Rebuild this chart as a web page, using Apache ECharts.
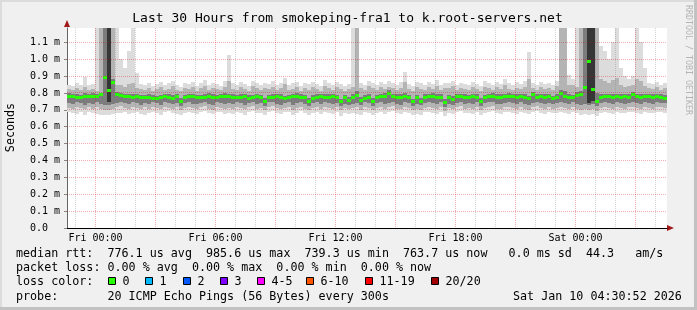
<!DOCTYPE html>
<html><head><meta charset="utf-8">
<script src="https://cdn.jsdelivr.net/npm/echarts@6/dist/echarts.min.js"></script>
<style>html,body{margin:0;padding:0;background:#f0f0f0}#c{width:697px;height:310px}</style>
</head><body><div id="c"></div>
<script>
// ---- time axis (hours relative to Fri 00:00) ----
const hourStart = -1.425;
const hourEnd = 28.575;
const slotHours = 0.2;
const xLabelHours = [0, 6, 12, 18, 24];
const xLabelText = ['Fri 00:00', 'Fri 06:00', 'Fri 12:00', 'Fri 18:00', 'Sat 00:00'];
// ---- value axis (microseconds) ----
const yMax = 1185;
const yTicks = [0, 100, 200, 300, 400, 500, 600, 700, 800, 900, 1000, 1100];

// median rtt per slot (us)
const med = [
782,778,776,775,780,778,781,779,790,893,
815,861,790,786,780,778,776,779,774,772,
776,770,768,773,777,775,770,778,748,772,
777,779,774,771,776,780,775,773,777,781,
778,776,772,775,779,770,774,777,773,752,
771,776,779,775,768,773,777,780,776,772,
747,770,775,778,774,776,779,772,747,771,
755,776,785,755,770,774,748,772,777,780,
798,778,774,776,779,773,747,771,752,775,
778,781,776,774,743,772,762,777,779,775,
773,778,776,750,772,777,780,776,774,778,
781,777,775,779,774,768,790,776,778,774,
777,766,775,798,780,776,773,785,790,831,
985,820,748,775,777,778,776,778,774,777,
776,790,778,775,777,779,776,778,775,770];
// outer smoke (lowest / highest ping)
const lo = [
690,682,676,686,672,688,680,676,670,668,
672,675,680,684,690,678,682,686,676,670,
684,690,679,672,686,692,680,675,668,684,
690,682,676,688,694,680,673,685,690,678,
684,676,690,682,672,686,692,679,684,670,
688,694,680,676,685,690,672,684,691,679,
668,682,688,676,690,684,678,686,666,680,
674,680,676,672,688,682,670,684,690,678,
686,692,680,674,688,682,668,678,672,686,
690,684,676,688,664,680,674,686,692,680,
684,678,690,670,682,688,694,680,676,686,
690,682,676,688,680,674,686,692,684,678,
686,680,684,690,682,676,688,680,672,676,
670,678,666,684,690,682,676,688,684,680,
686,690,682,676,688,684,680,690,686,682];
const hi = [
850,842,858,846,892,848,852,1200,1200,1200,
1200,1200,1200,1000,950,1050,1200,920,855,846,
862,840,851,868,845,857,872,849,838,860,
853,866,842,858,875,848,862,855,843,869,
1025,857,848,866,852,841,873,859,846,862,
854,870,845,861,888,849,857,866,843,858,
851,868,855,842,874,860,847,864,853,840,
856,1200,1200,861,849,872,858,845,866,852,
870,858,847,863,926,855,841,868,857,849,
864,852,876,845,861,858,873,847,862,855,
849,867,856,842,870,859,848,865,854,881,
857,846,863,852,869,1044,858,847,866,853,
861,849,872,1200,1200,905,880,1200,1200,1200,
1200,1200,1200,1080,1050,1000,1100,1200,950,900,
880,900,1200,1100,950,862,851,868,846,858];
// middle smoke
const mlo = [
712,706,718,710,704,716,708,714,705,700,
702,708,715,720,712,706,718,710,704,714,
708,716,711,703,719,713,707,715,700,712,
717,709,705,714,720,708,702,716,711,706,
713,705,718,710,703,715,720,707,712,698,
716,721,709,704,713,718,702,711,719,707,
699,710,716,705,718,712,706,714,697,709,
703,709,714,700,716,710,699,712,718,706,
714,720,708,703,716,710,697,707,701,713,
718,712,705,716,695,709,703,714,720,708,
712,706,718,699,710,716,721,708,704,714,
718,710,704,716,708,702,714,720,712,706,
714,707,712,718,710,704,716,708,700,705,
698,706,695,712,718,710,704,716,712,708,
714,718,710,704,716,712,708,718,714,710];
const mhi = [
822,815,828,818,834,820,825,812,1200,1200,
1200,1200,845,850,838,856,860,832,824,818,
830,812,822,836,815,826,840,820,810,828,
824,835,814,827,842,818,831,825,815,838,
870,826,818,834,822,812,840,828,816,831,
823,838,815,830,852,819,826,835,813,827,
820,836,824,813,842,829,817,833,822,811,
826,835,1200,830,819,840,827,815,834,822,
838,827,817,832,868,824,812,836,826,819,
833,822,844,815,830,827,840,817,831,824,
819,835,825,813,838,828,818,833,823,848,
826,816,832,822,837,880,827,817,834,823,
830,819,840,1200,1200,850,845,838,1200,1200,
1200,1200,1200,880,870,860,875,890,850,835,
840,845,880,870,840,830,821,836,816,827];
// inner (dense) smoke
const ilo = [
740,734,745,738,730,742,736,744,732,728,
731,737,743,748,740,733,746,739,731,742,
736,744,739,730,747,741,734,743,722,740,
745,737,732,742,748,736,730,744,739,733,
741,732,746,738,731,743,748,735,740,725,
744,749,737,731,741,746,729,739,747,735,
722,738,744,732,746,740,734,742,721,737,
730,737,742,727,744,738,722,740,746,734,
742,748,736,730,744,738,720,735,726,741,
746,740,733,744,718,737,729,742,748,736,
740,734,746,724,738,744,749,736,732,742,
746,738,732,744,736,729,742,748,740,734,
742,735,740,746,738,732,744,736,728,733,
726,734,722,740,746,738,732,744,740,736,
742,746,738,732,744,740,736,746,742,738];
const ihi = [
798,794,792,790,800,795,797,794,802,1200,
1200,880,808,802,796,794,792,796,790,788,
792,786,784,790,794,792,786,794,770,789,
794,796,790,787,793,797,792,789,794,798,
796,793,788,791,796,787,790,794,789,770,
788,793,796,792,785,790,794,797,793,789,
768,787,792,795,791,793,796,789,767,788,
774,795,810,775,787,791,768,789,794,797,
815,795,791,793,800,790,767,788,772,792,
795,798,793,791,763,789,780,794,796,792,
790,795,793,770,789,794,797,793,791,795,
798,794,792,796,791,785,808,793,795,791,
794,784,792,815,810,793,790,805,812,1200,
1200,1200,800,792,794,795,793,795,791,794,
793,807,795,792,794,796,793,795,792,790];
// darkest core smoke (only where it fills the column)
const coreSlot = [10, 130, 131];
const coreLo = [745, 740, 750];
const coreHi = [1200, 1200, 1200];

// legend
const lossLabels = ['0', '1', '2', '3', '4-5', '6-10', '11-19', '20/20'];
const lossColors = ['#26ff00', '#00b8ff', '#0059ff', '#7e00ff', '#ff00ff', '#ff5500', '#ff0000', '#a10000'];
const lossBoxX = [108, 145, 183, 220, 257, 306, 365, 431];
const titleText = 'Last 30 Hours from smokeping-fra1 to k.root-servers.net';
const rowRtt = 'median rtt:  776.1 us avg  985.6 us max  739.3 us min  763.7 us now   0.0 ms sd  44.3   am/s';
const rowLoss = 'packet loss: 0.00 % avg  0.00 % max  0.00 % min  0.00 % now';
const rowProbe = 'probe:       20 ICMP Echo Pings (56 Bytes) every 300s';
const stampText = 'Sat Jan 10 04:30:52 2026';

const MONO = '"DejaVu Sans Mono", monospace';

function slotRows(loArr, hiArr, idx) {
  return loArr.map((v, k) => {
    const i = idx ? idx[k] : k;
    return [hourStart + i * slotHours, v, hiArr[k], hourStart + (i + 1) * slotHours];
  });
}
function bandSeries(rows, color, z) {
  return {
    type: 'custom', z: z, silent: true, clip: true,
    encode: { x: [0, 3], y: [1, 2] }, data: rows,
    renderItem(params, api) {
      const a = api.coord([api.value(0), api.value(1)]);
      const b = api.coord([api.value(3), api.value(2)]);
      const cs = params.coordSys;
      const top = Math.round(Math.max(b[1], cs.y));
      const bot = Math.round(Math.min(a[1], cs.y + cs.height));
      const x0 = Math.round(a[0]), x1 = Math.round(b[0]);
      return { type: 'rect', shape: { x: x0, y: top, width: x1 - x0, height: bot - top }, style: { fill: color } };
    }
  };
}

const vGridHours = [];
for (let h = Math.ceil(hourStart); h <= Math.floor(hourEnd); h++) vGridHours.push(h);
const hGridVals = yTicks.filter(v => v > 0);
const RED = 'rgba(210,0,0,0.32)', GREY = 'rgba(128,128,128,0.35)';

const graphics = [
  { type: 'rect', shape: { x: 0, y: 0, width: 697, height: 2 }, style: { fill: '#dcdcdc' }, silent: true },
  { type: 'rect', shape: { x: 0, y: 0, width: 2, height: 310 }, style: { fill: '#dcdcdc' }, silent: true },
  { type: 'rect', shape: { x: 0, y: 307, width: 697, height: 3 }, style: { fill: '#c2c2c2' }, silent: true },
  { type: 'rect', shape: { x: 694, y: 0, width: 3, height: 310 }, style: { fill: '#c2c2c2' }, silent: true },
  { type: 'polygon', shape: { points: [[64, 27], [70, 27], [67, 20]] }, style: { fill: '#a01818' }, silent: true },
  { type: 'polygon', shape: { points: [[667, 225], [667, 231], [674, 228]] }, style: { fill: '#a01818' }, silent: true },
  { type: 'text', x: 347.5, y: 19, style: { text: titleText, font: '13px ' + MONO, fill: '#000', align: 'center', verticalAlign: 'middle' }, silent: true },
  { type: 'text', x: 10.5, y: 127.5, rotation: Math.PI / 2, style: { text: 'Seconds', font: '11.7px ' + MONO, fill: '#000', align: 'center', verticalAlign: 'middle' }, silent: true },
  { type: 'text', x: 688, y: 5, rotation: -Math.PI / 2, style: { text: 'RRDTOOL / TOBI OETIKER', font: '8.3px ' + MONO, fill: '#b4b4b4', align: 'left', verticalAlign: 'middle' }, silent: true },
  { type: 'text', x: 16, y: 254, style: { text: rowRtt, font: '11.7px ' + MONO, fill: '#000', align: 'left', verticalAlign: 'middle' }, silent: true },
  { type: 'text', x: 16, y: 268, style: { text: rowLoss, font: '11.7px ' + MONO, fill: '#000', align: 'left', verticalAlign: 'middle' }, silent: true },
  { type: 'text', x: 16, y: 282, style: { text: 'loss color:', font: '11.7px ' + MONO, fill: '#000', align: 'left', verticalAlign: 'middle' }, silent: true },
  { type: 'text', x: 16, y: 296.5, style: { text: rowProbe, font: '11.7px ' + MONO, fill: '#000', align: 'left', verticalAlign: 'middle' }, silent: true },
  { type: 'text', x: 513, y: 296.5, style: { text: stampText, font: '11.7px ' + MONO, fill: '#000', align: 'left', verticalAlign: 'middle' }, silent: true }
];
lossLabels.forEach((lab, k) => {
  graphics.push({ type: 'rect', shape: { x: lossBoxX[k] + 0.5, y: 277.5, width: 7, height: 7 }, style: { fill: lossColors[k], stroke: '#000', lineWidth: 1 }, silent: true });
  graphics.push({ type: 'text', x: lossBoxX[k] + 14.5, y: 282, style: { text: lab, font: '11.7px ' + MONO, fill: '#000', align: 'left', verticalAlign: 'middle' }, silent: true });
});

const chart = echarts.init(document.getElementById('c'), null, { renderer: 'canvas' });
chart.setOption({
  animation: false,
  backgroundColor: '#f0f0f0',
  grid: { left: 67, right: 30, top: 28, bottom: 82, show: true, backgroundColor: '#ffffff', borderWidth: 0 },
  xAxis: {
    type: 'value', min: hourStart, max: hourEnd,
    splitLine: { show: false },
    axisLine: { show: true, onZero: false, lineStyle: { color: '#000', width: 1 } },
    axisTick: { show: false },
    axisLabel: {
      customValues: xLabelHours, margin: 5,
      formatter: v => xLabelText[xLabelHours.indexOf(v)],
      fontFamily: 'DejaVu Sans Mono', fontSize: 10, color: '#000'
    }
  },
  yAxis: {
    type: 'value', min: 0, max: yMax,
    splitLine: { show: false },
    axisLine: { show: true, onZero: false, lineStyle: { color: '#666', width: 1 } },
    axisTick: { show: true, customValues: yTicks, length: 3, lineStyle: { color: '#888' } },
    axisLabel: {
      customValues: yTicks, margin: 37, align: 'left',
      formatter: v => v === 0 ? '0.0' : (v / 1000).toFixed(1) + ' m',
      fontFamily: 'DejaVu Sans Mono', fontSize: 10, color: '#000'
    }
  },
  graphic: graphics,
  series: [
    bandSeries(slotRows(lo, hi), '#dcdcdc', 1),
    bandSeries(slotRows(mlo, mhi), '#b4b4b4', 2),
    bandSeries(slotRows(ilo, ihi), '#7c7c7c', 3),
    bandSeries(slotRows(coreLo, coreHi, coreSlot), '#363636', 4),
    {
      type: 'custom', z: 5, silent: true, clip: true,
      encode: { x: [0, 2], y: 1 },
      data: med.map((v, i) => [hourStart + i * slotHours, v, hourStart + (i + 1) * slotHours]),
      renderItem(params, api) {
        const a = api.coord([api.value(0), api.value(1)]);
        const b = api.coord([api.value(2), api.value(1)]);
        const x0 = Math.round(a[0]), x1 = Math.round(b[0]);
        return { type: 'rect', shape: { x: x0, y: Math.round(a[1] - 1.5), width: x1 - x0, height: 3 }, style: { fill: '#26ff00' } };
      }
    },
    {
      type: 'custom', z: 6, silent: true,
      encode: { x: 0, y: 1 },
      data: vGridHours.map(h => [h, 0]),
      renderItem(params, api) {
        const p = api.coord([api.value(0), 0]);
        const cs = params.coordSys;
        const x = Math.floor(p[0]) + 0.5;
        const major = api.value(0) % 3 === 0;
        return { type: 'line', shape: { x1: x, y1: cs.y, x2: x, y2: cs.y + cs.height }, style: { stroke: major ? RED : GREY, lineWidth: 1, lineDash: [1, 1] } };
      }
    },
    {
      type: 'custom', z: 6, silent: true,
      encode: { x: 0, y: 1 },
      data: hGridVals.map(v => [hourStart, v]),
      renderItem(params, api) {
        const p = api.coord([hourStart, api.value(1)]);
        const cs = params.coordSys;
        const y = Math.floor(p[1]) + 0.5;
        return { type: 'line', shape: { x1: cs.x, y1: y, x2: cs.x + cs.width, y2: y }, style: { stroke: RED, lineWidth: 1, lineDash: [1, 1] } };
      }
    }
  ]
});
</script></body></html>
